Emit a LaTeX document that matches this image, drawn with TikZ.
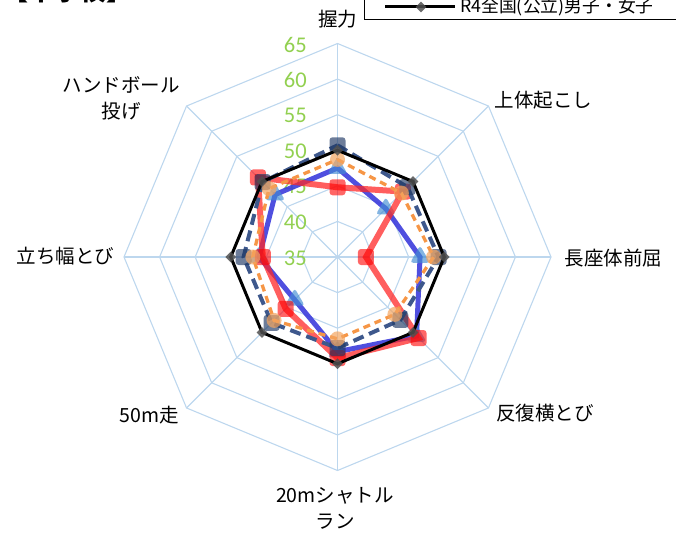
\documentclass[tikz,border=0pt]{standalone}
\usepackage{fontspec}
\setmainfont{Noto Sans CJK JP}
\newfontfamily\numfont{Carlito}
\usetikzlibrary{shapes.geometric}
\definecolor{gridc}{RGB}{189,215,238}
\definecolor{numc}{RGB}{146,208,80}
\definecolor{navyc}{RGB}{62,88,140}
\definecolor{navym}{RGB}{31,56,100}
\definecolor{orangec}{RGB}{246,150,70}
\definecolor{orangem}{RGB}{244,165,96}
\definecolor{bluec}{RGB}{60,60,220}
\definecolor{bluem}{RGB}{65,140,210}
\definecolor{redc}{RGB}{255,40,40}
\definecolor{redm}{RGB}{255,0,0}
\definecolor{diam}{RGB}{80,80,80}
\tikzset{
 gridline/.style={draw=gridc, line width=1.1pt},
 num/.style={font=\numfont\fontsize{22.5}{22}\selectfont, text=numc, anchor=east, inner sep=0pt},
 axlabel/.style={font=\fontsize{19.5}{26}\selectfont, inner sep=0pt, align=center},
 blackline/.style={draw=black, line width=3pt},
 navyline/.style={draw=navyc, line width=4pt, dash pattern=on 11pt off 6pt},
 orangeline/.style={draw=orangec, line width=3.3pt, dash pattern=on 7pt off 5pt},
 blueline/.style={draw=bluec, line width=5pt, opacity=0.9},
 redline/.style={draw=redc, line width=6pt, opacity=0.75},
 diamark/.style={diamond, fill=diam, fill opacity=0.85, minimum size=11pt, inner sep=0pt},
 navymark/.style={rectangle, rounded corners=3pt, fill=navym, fill opacity=0.65, minimum size=16pt, inner sep=0pt},
 orangemark/.style={circle, fill=orangem, fill opacity=0.7, minimum size=15pt, inner sep=0pt},
 bluemark/.style={regular polygon, regular polygon sides=3, fill=bluem, fill opacity=0.65, minimum size=23pt, inner sep=0pt, rounded corners=3pt},
 redmark/.style={rectangle, rounded corners=3pt, fill=redm, fill opacity=0.6, minimum size=16pt, inner sep=0pt},
}
\newcommand{\defseries}[2]{%
 \foreach \v [count=\i from 0] in {#2} {\coordinate (#1\i) at ({90-45*\i}:{(\v-35)*7.1167});}}
\newcommand{\drawseries}[3]{%
 \draw[#2] (#10) -- (#11) -- (#12) -- (#13) -- (#14) -- (#15) -- (#16) -- (#17) -- cycle;
 \foreach \i in {0,...,7} {\node[#3] (#1m\i) at (#1\i) {};}}
\begin{document}
\begin{tikzpicture}[x=1pt,y=1pt]
\useasboundingbox (0,0) rectangle (676,-537);
\clip (0,0) rectangle (676,-537);
% title (cut off at the top)
\node[font=\bfseries\fontsize{26}{26}\selectfont, anchor=base west, inner sep=0pt] (title) at (2,-1) {【中学校】};
% legend (partly visible)
\draw[line width=1.8pt] (364.5,20) -- (364.5,-19.5) -- (690,-19.5);
\coordinate (la) at (385,-7);
\coordinate (lb) at (455,-7);
\draw[blackline] (la) -- (lb);
\node[diamark] (lm) at (421,-7) {};
\node[anchor=west, font=\fontsize{17.8}{17}\selectfont, inner sep=0pt] (legtext) at (460,-6.5) {R4全国(公立)男子・女子};
% axis labels
\node[axlabel] (L0) at (337.5,-19.5) {握力};
\node[axlabel] (L1) at (543.5,-100) {上体起こし};
\node[axlabel] (L2) at (613.5,-258.5) {長座体前屈};
\node[axlabel] (L3) at (545,-413) {反復横とび};
\node[axlabel] (L4) at (335,-508) {20mシャトル\\ラン};
\node[axlabel] (L5) at (149,-415) {50m走};
\node[axlabel] (L6) at (65.5,-256.5) {立ち幅とび};
\node[axlabel] (L7) at (121,-98.5) {ハンドボール\\投げ};
\begin{scope}[shift={(337.5,-257)}]
\coordinate (c) at (0,0);
\foreach \k in {1,...,6}{
 \pgfmathsetmacro\rr{\k*213.5/6}
 \draw[gridline] (90:\rr) -- (45:\rr) -- (0:\rr) -- (-45:\rr) -- (-90:\rr) -- (-135:\rr) -- (180:\rr) -- (135:\rr) -- cycle;
}
\foreach \a in {0,45,...,315} {\draw[gridline] (c) -- (\a:213.5);}
\foreach \v [count=\k from 0] in {35,40,...,65} {\node[num] (n\v) at (-30.5,{\k*35.583-1}) {\v};}
% data
\defseries{bk}{50,50,50,50,50,50,50,50}
\defseries{nv}{50.7,48.9,49.2,47.5,47.8,48.1,48.2,49.9}
\defseries{or}{48.7,47.7,48.5,46.4,46.5,47.6,46.9,48.6}
\defseries{bl}{47.5,44.6,46.6,50.7,48.3,43.5,46.0,47.4}
\defseries{rd}{44.8,48.0,39.0,51.1,49.2,45.3,45.5,50.8}
\drawseries{bl}{blueline}{bluemark}
\drawseries{rd}{redline}{redmark}
\drawseries{nv}{navyline}{navymark}
\drawseries{or}{orangeline}{orangemark}
\drawseries{bk}{blackline}{diamark}
\end{scope}
\end{tikzpicture}
\end{document}
